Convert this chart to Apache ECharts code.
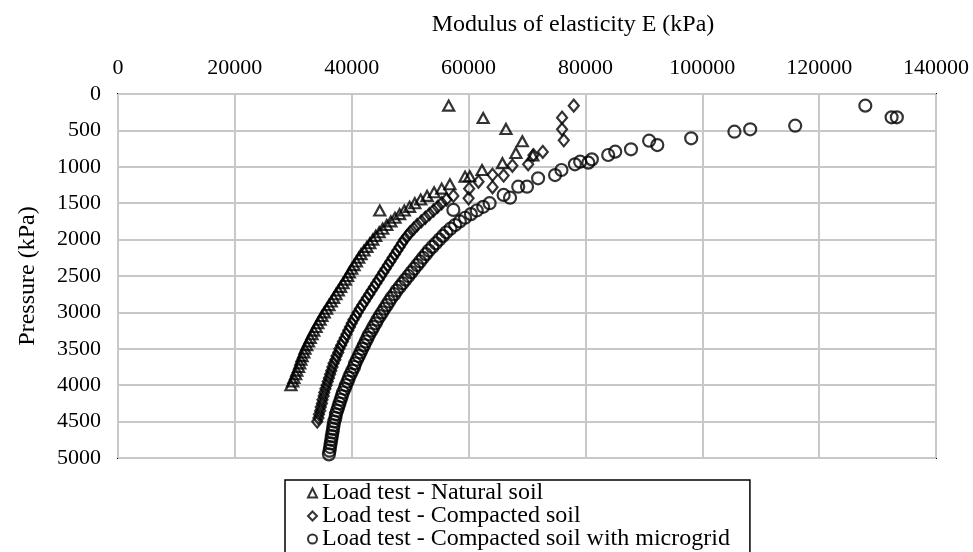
<!DOCTYPE html>
<html>
<head>
<meta charset="utf-8">
<script src="https://cdn.jsdelivr.net/npm/echarts@6/dist/echarts.min.js"></script>
<style>
  html, body { margin: 0; padding: 0; background: #fff; }
  #main { width: 973px; height: 552px; }
</style>
</head>
<body>
<div id="main"></div>
<script>
// [modulus E (kPa), pressure (kPa)]
var naturalSoil = [
  [56600,160],[62500,330],[66400,480],[69200,650],[68100,810],[71000,845],
  [65800,950],[62300,1045],[59400,1135],[60200,1130],[56800,1240],[44800,1600],
  [55400,1300],[54100,1350],[52900,1400],[51800,1450],[50800,1500],[49900,1550],
  [49000,1600],[48200,1650],[47400,1700],[46700,1750],[46000,1800],[45300,1850],
  [44700,1900],[44100,1950],[43600,2000],[43100,2050],[42600,2100],[42100,2150],
  [41600,2200],[41200,2250],[40800,2300],[40400,2350],[40000,2400],[39600,2450],
  [39300,2500],[38900,2550],[38500,2600],[38100,2650],[37700,2700],[37300,2750],
  [36900,2800],[36500,2850],[36100,2900],[35700,2950],[35300,3000],[34900,3050],
  [34600,3100],[34200,3150],[33900,3200],[33500,3250],[33200,3300],[32900,3350],
  [32600,3400],[32300,3450],[32000,3500],[31800,3550],[31500,3600],[31300,3650],
  [31100,3700],[30900,3750],[30600,3800],[30400,3850],[30100,3900],[29900,3950],
  [29600,4000]
];

var compactedSoil = [
  [78000,160],[76000,325],[76000,485],[76300,636],[72700,795],[71100,840],
  [70200,965],[67500,985],[66000,1120],[64100,1110],[61700,1205],[64100,1280],
  [60100,1300],[57400,1400],[60000,1433],
  [56200,1450],[55400,1500],[54700,1550],[54000,1600],[53300,1650],[52600,1700],
  [51900,1750],[51200,1800],[50600,1850],[50000,1900],[49500,1950],[49000,2000],
  [48600,2050],[48200,2100],[47800,2150],[47400,2200],[47000,2250],[46600,2300],
  [46200,2350],[45800,2400],[45400,2450],[45000,2500],[44600,2550],[44200,2600],
  [43800,2650],[43400,2700],[43000,2750],[42600,2800],[42200,2850],[41800,2900],
  [41400,2950],[41000,3000],[40700,3050],[40300,3100],[40000,3150],[39700,3200],
  [39400,3250],[39100,3300],[38800,3350],[38500,3400],[38200,3450],[37900,3500],
  [37700,3550],[37400,3600],[37200,3650],[36900,3700],[36700,3750],[36500,3800],
  [36300,3850],[36100,3900],[35900,3950],[35700,4000],[35500,4050],[35300,4100],
  [35200,4150],[35000,4200],[34900,4250],[34700,4300],[34600,4350],[34400,4400],
  [34300,4450],[34100,4500]
];

var microgridSoil = [
  [127900,160],[132400,320],[133300,320],[115900,435],[108200,485],[105500,518],
  [98100,609],[90900,641],[92300,701],[87800,760],[85100,792],[83900,838],
  [81100,898],[79100,930],[80500,943],[78200,966],[75900,1044],[74800,1113],
  [71900,1158],[70000,1273],[68500,1273],[66000,1387],[67100,1424],[57400,1593],
  [63600,1500],[62500,1550],[61400,1600],[60400,1650],[59400,1700],[58500,1750],
  [57700,1800],[56900,1850],[56200,1900],[55600,1950],[55000,2000],[54400,2050],
  [53800,2100],[53200,2150],[52700,2200],[52200,2250],[51700,2300],[51200,2350],
  [50700,2400],[50200,2450],[49700,2500],[49200,2550],[48700,2600],[48200,2650],
  [47700,2700],[47300,2750],[46800,2800],[46400,2850],[46000,2900],[45600,2950],
  [45200,3000],[44800,3050],[44400,3100],[44100,3150],[43700,3200],[43400,3250],
  [43000,3300],[42700,3350],[42400,3400],[42100,3450],[41800,3500],[41500,3550],
  [41200,3600],[40900,3650],[40600,3700],[40400,3750],[40100,3800],[39800,3850],
  [39500,3900],[39300,3950],[39000,4000],[38800,4050],[38500,4100],[38300,4150],
  [38100,4200],[37900,4250],[37700,4300],[37500,4350],[37300,4400],[37200,4450],
  [37000,4500],[36900,4550],[36800,4600],[36700,4650],[36600,4700],[36500,4750],
  [36400,4800],[36300,4850],[36200,4900],[36100,4950]
];

var seriesNames = [
  'Load test - Natural soil',
  'Load test - Compacted soil',
  'Load test - Compacted soil with microgrid'
];

var fontFamily = '"Liberation Serif", "Times New Roman", serif';
var myChart = echarts.init(document.getElementById('main'));

function markerStyle() {
  return {
    color: 'rgba(0,0,0,0)',
    borderColor: '#000',
    borderWidth: 2.2
  };
}

function plainNumber(v) {
  return String(v);
}

var option = {
  animation: false,
  backgroundColor: '#fff',
  grid: {
    left: 118,
    right: 37,
    top: 94,
    bottom: 94,
    show: true,
    borderColor: '#000',
    borderWidth: 2
  },
  legend: {
    orient: 'vertical',
    left: 285,
    top: 480,
    height: 120,
    padding: [1, 20, 12, 22],
    itemGap: -1,
    itemWidth: 9,
    itemHeight: 9,
    borderColor: '#000',
    borderWidth: 1.5,
    backgroundColor: '#fff',
    textStyle: { fontFamily: fontFamily, fontSize: 24, color: '#000' },
    data: seriesNames
  },
  xAxis: {
    type: 'value',
    position: 'top',
    min: 0,
    max: 140000,
    interval: 20000,
    name: 'Modulus of elasticity E (kPa)',
    nameLocation: 'middle',
    nameGap: 57,
    nameTextStyle: { fontFamily: fontFamily, fontSize: 24, color: '#000', padding: [0, 0, 0, 92] },
    axisLine: { show: false },
    axisTick: { show: false },
    axisLabel: { fontFamily: fontFamily, fontSize: 22, color: '#000', margin: 15, formatter: plainNumber },
    splitLine: { lineStyle: { color: '#c8c8c8', width: 2 } }
  },
  yAxis: {
    type: 'value',
    inverse: true,
    min: 0,
    max: 5000,
    interval: 500,
    name: 'Pressure (kPa)',
    nameLocation: 'middle',
    nameGap: 78,
    nameRotate: 90,
    nameTextStyle: { fontFamily: fontFamily, fontSize: 24, color: '#000' },
    axisLine: { show: false },
    axisTick: { show: false },
    axisLabel: { fontFamily: fontFamily, fontSize: 22, color: '#000', margin: 17, formatter: plainNumber },
    splitLine: { lineStyle: { color: '#c8c8c8', width: 2 } }
  },
  series: [
    {
      name: seriesNames[0],
      type: 'scatter',
      symbol: 'triangle',
      symbolSize: [11, 10],
      itemStyle: markerStyle(),
      data: naturalSoil
    },
    {
      name: seriesNames[1],
      type: 'scatter',
      symbol: 'diamond',
      symbolSize: [10, 12],
      itemStyle: markerStyle(),
      data: compactedSoil
    },
    {
      name: seriesNames[2],
      type: 'scatter',
      symbol: 'circle',
      symbolSize: 12,
      itemStyle: markerStyle(),
      data: microgridSoil
    }
  ]
};
myChart.setOption(option);
</script>
</body>
</html>
